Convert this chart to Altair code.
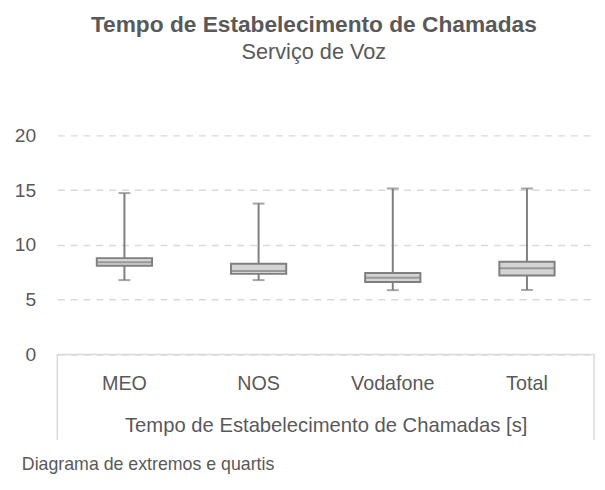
import altair as alt
import pandas as pd

categories = ["MEO", "NOS", "Vodafone", "Total"]
mins = [6.77, 6.77, 5.85, 5.87]
q1s = [8.09, 7.34, 6.59, 7.19]
medians = [8.40, 7.61, 6.99, 7.85]
q3s = [8.78, 8.27, 7.43, 8.45]
maxs = [14.73, 13.77, 15.15, 15.15]

df = pd.DataFrame({"cat": categories, "mn": mins, "q1": q1s, "med": medians, "q3": q3s, "mx": maxs})

FONT = "Liberation Sans, Arial, sans-serif"
TXT = "#595959"
W, H = 544, 221.6

x = alt.X("cat:N", sort=categories, title="Tempo de Estabelecimento de Chamadas [s]",
          scale=alt.Scale(paddingInner=0, paddingOuter=0),
          axis=alt.Axis(labelAngle=0, ticks=False, labelPadding=20, titlePadding=22,
                        domainColor="#d9d9d9", domainWidth=1.5,
                        labelFontSize=20, titleFontSize=20.5, titleFontWeight="normal",
                        labelColor=TXT, titleColor=TXT, labelFont=FONT, titleFont=FONT))
yscale = alt.Scale(domain=[0, 20])
yaxis = alt.Axis(values=[0, 5, 10, 15, 20], ticks=False, domain=False, labelPadding=22,
                 gridDash=[7, 6], gridColor="#d9d9d9", gridWidth=1.3,
                 labelFontSize=19.5, labelColor=TXT, labelFont=FONT, title=None)

base = alt.Chart(df)
whisk = base.mark_rule(color="#7f7f7f", strokeWidth=2).encode(
    x=x, y=alt.Y("mn:Q", scale=yscale, axis=yaxis), y2="mx:Q")
caps_lo = base.mark_tick(color="#7f7f7f", thickness=2, size=12).encode(x=x, y=alt.Y("mn:Q", scale=yscale))
caps_hi = base.mark_tick(color="#7f7f7f", thickness=2, size=12).encode(x=x, y=alt.Y("mx:Q", scale=yscale))
box = base.mark_bar(size=56, fill="#d4d4d4", stroke="#7f7f7f", strokeWidth=2).encode(
    x=x, y=alt.Y("q1:Q", scale=yscale), y2="q3:Q")
med = base.mark_tick(color="#7f7f7f", thickness=2, size=55).encode(x=x, y=alt.Y("med:Q", scale=yscale))

frame_df = pd.DataFrame({"side": ["l", "r"]})
left_line = alt.Chart(frame_df).transform_filter("datum.side == 'l'").mark_rule(
    color="#d9d9d9", strokeWidth=1.5).encode(x=alt.value(0), y=alt.value(H), y2=alt.value(H + 87))
right_line = alt.Chart(frame_df).transform_filter("datum.side == 'r'").mark_rule(
    color="#d9d9d9", strokeWidth=1.5).encode(x=alt.value(W), y=alt.value(H), y2=alt.value(H + 87))

footer_df = pd.DataFrame({"t": ["Diagrama de extremos e quartis"]})
footer = alt.Chart(footer_df).mark_text(align="left", baseline="middle", fontSize=18,
                                        font=FONT, color=TXT).encode(
    text="t:N", x=alt.value(-36), y=alt.value(H + 112))

chart = alt.layer(whisk, box, med, caps_lo, caps_hi, left_line, right_line, footer).properties(
    width=W, height=H,
    autosize=alt.AutoSizeParams(type="none"),
    padding={"left": 50, "top": 126, "right": 3, "bottom": 126},
    title=alt.TitleParams(text="Tempo de Estabelecimento de Chamadas",
                          subtitle="Serviço de Voz",
                          anchor="middle", dx=-12, offset=64,
                          font=FONT, fontSize=23, fontWeight="bold", color=TXT,
                          subtitleFont=FONT, subtitleFontSize=22, subtitleColor=TXT,
                          subtitlePadding=5)
).configure_view(stroke=None)

chart.save("out.html", embed_options={"renderer": "svg", "actions": False})
